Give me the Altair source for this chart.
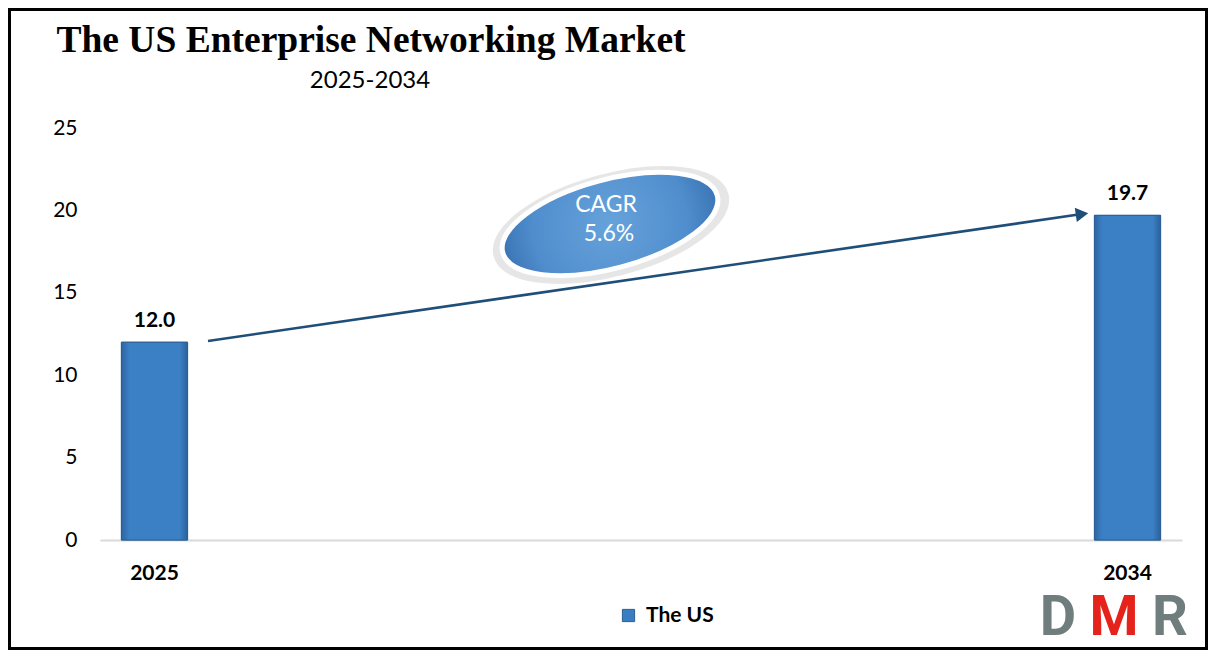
import altair as alt
import pandas as pd

# ---- data ----
years = ["2025", "2034"]
values = [12.0, 19.7]
series = ["The US", "The US"]
value_labels = ["12.0", "19.7"]
arrow_values = [12.08, 19.78]   # arrow start / end level (market value units)
cagr_lines = ["CAGR", "5.6%"]
title_text = "The US Enterprise Networking Market"
subtitle_text = "2025-2034"
logo_letters = ["D", "M", "R"]
logo_colors = ["#6f7d7c", "#e5231b", "#6f7d7c"]
logo_sizes = [56, 56, 56]

df = pd.DataFrame({"year": years, "value": values, "series": series, "label": value_labels})
one = pd.DataFrame({"k": [0]})

W, H = 1082, 412
PAD = {"left": 92, "top": 120, "right": 26, "bottom": 110}

x_enc = alt.X("year:N", sort=years,
              scale=alt.Scale(paddingInner=0.932, paddingOuter=0.022),
              axis=alt.Axis(title=None, labelAngle=0, ticks=False, domain=True,
                            domainColor="#d9d9d9", domainWidth=2,
                            labelFont="Lato", labelFontSize=21, labelFontWeight="bold",
                            labelColor="#000000", labelPadding=22))
y_enc = alt.Y("value:Q", scale=alt.Scale(domain=[0, 25], nice=False),
              axis=alt.Axis(title=None, values=[0, 5, 10, 15, 20, 25], grid=False,
                            domain=False, ticks=False, labelFont="Lato", labelFontSize=21,
                            labelColor="#000000", labelPadding=23))

bars = alt.Chart(df).mark_bar(stroke="#2c5f96", strokeWidth=1).encode(
    x=x_enc, y=y_enc,
    color=alt.Color("series:N", scale=alt.Scale(domain=["The US"], range=["#3a7dc0"]),
                    legend=alt.Legend(title=None, orient="none", legendX=518, legendY=477,
                                      symbolType="square", symbolSize=150,
                                      symbolStrokeColor="#2c5f96", symbolStrokeWidth=1,
                                      labelFont="Lato", labelFontSize=21,
                                      labelFontWeight="bold", labelColor="#000000",
                                      labelOffset=7))
)

bar_grad = alt.Chart(df).mark_bar(
    stroke="#2c5f96", strokeWidth=1,
    fill={"gradient": "linear", "x1": 0, "y1": 0, "x2": 1, "y2": 0,
          "stops": [{"offset": 0, "color": "#2d66a3"},
                    {"offset": 0.12, "color": "#3b80c4"},
                    {"offset": 0.88, "color": "#3b80c4"},
                    {"offset": 1, "color": "#2b619c"}]}
).encode(x=alt.X("year:N", sort=years), y="value:Q")

labels = alt.Chart(df).mark_text(font="Lato", fontSize=21, fontWeight="bold",
                                 color="#000000", dy=-15, baseline="alphabetic").encode(
    x=alt.X("year:N", sort=years), y="value:Q", text="label:N")

arrow_df = pd.DataFrame({"y0": [arrow_values[0]], "y1": [arrow_values[1]]})
arrow = alt.Chart(arrow_df).mark_rule(color="#1f4e79", strokeWidth=2.6).encode(
    x=alt.value(108), x2=alt.value(982), y="y0:Q", y2="y1:Q")
head = alt.Chart(arrow_df).mark_point(shape="triangle-right", filled=True, opacity=1,
                                      color="#1f4e79", size=210, angle=351.8).encode(
    x=alt.value(982), y="y1:Q")

ellipse_path = "M -1 0 A 1 0.4 0 1 0 1 0 A 1 0.4 0 1 0 -1 0 Z"
shadow = alt.Chart(one).mark_point(shape=ellipse_path, filled=False, stroke="#9a9a9a",
                                   strokeWidth=9, strokeOpacity=0.35, size=234 ** 2,
                                   angle=345).encode(x=alt.value(511), y=alt.value(97))
ellipse = alt.Chart(one).mark_point(
    shape=ellipse_path, filled=True, opacity=1, size=222 ** 2, angle=345,
    fill={"gradient": "radial",
          "stops": [{"offset": 0, "color": "#66a2da"},
                    {"offset": 0.7, "color": "#508dcd"},
                    {"offset": 1, "color": "#3a74b5"}]},
    stroke="#ffffff", strokeWidth=5).encode(x=alt.value(510), y=alt.value(96))

cagr_df = pd.DataFrame({"t": cagr_lines, "yy": [84, 113], "xx": [506, 509]})
cagr = alt.Chart(cagr_df).mark_text(font="Lato", fontSize=23, color="#ffffff",
                                    baseline="alphabetic").encode(
    x=alt.X("xx:Q", scale=None), y=alt.Y("yy:Q", scale=None), text="t:N")

title = alt.Chart(one).mark_text(text=title_text, font="Liberation Serif", fontSize=37.5,
                                 fontWeight="bold", color="#000000", align="center",
                                 baseline="alphabetic").encode(
    x=alt.value(271), y=alt.value(-76))
subtitle = alt.Chart(one).mark_text(text=subtitle_text, font="Lato", fontSize=24,
                                    color="#000000", align="center",
                                    baseline="alphabetic").encode(
    x=alt.value(270), y=alt.value(-40))

logo_df = pd.DataFrame({"t": logo_letters, "c": logo_colors, "s": logo_sizes,
                        "xx": [958, 1014, 1070]})
logo = alt.Chart(logo_df).mark_text(font="Roboto", fontWeight="bold",
                                    baseline="alphabetic", align="center").encode(
    x=alt.X("xx:Q", scale=None), y=alt.value(507), text="t:N",
    size=alt.Size("s:Q", scale=None, legend=None),
    color=alt.Color("c:N", scale=None, legend=None))

border = alt.Chart(one).mark_rect(fillOpacity=0, stroke="#000000", strokeWidth=3).encode(
    x=alt.value(-PAD["left"] + 1.5), x2=alt.value(W + PAD["right"] - 1.5),
    y=alt.value(-PAD["top"] + 1.5), y2=alt.value(H + PAD["bottom"] - 1.5))

chart = alt.layer(bars, bar_grad, labels, arrow, head, shadow, ellipse, cagr,
                  title, subtitle, logo, border).properties(
    width=W, height=H,
    autosize=alt.AutoSizeParams(type="none"),
    padding=PAD,
    background="#ffffff",
).configure_view(stroke=None)

chart.save("out.html", embed_options={"renderer": "svg", "actions": False})
